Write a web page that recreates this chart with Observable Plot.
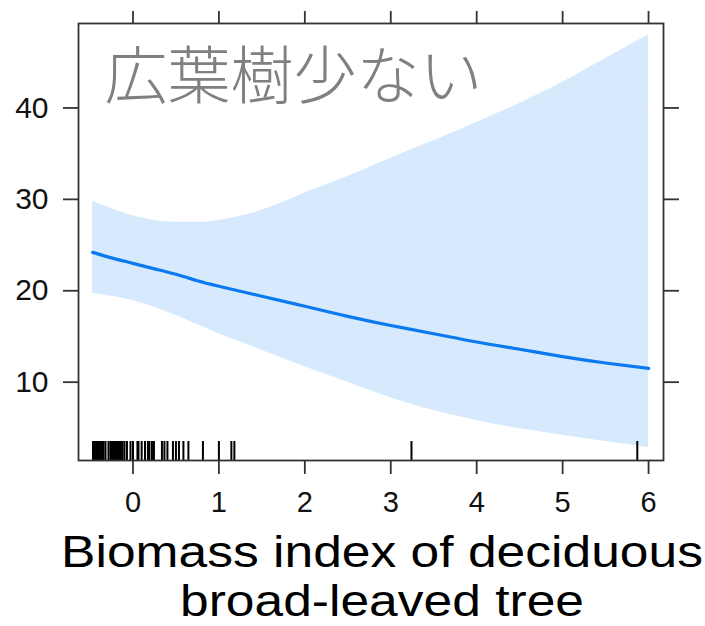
<!DOCTYPE html>
<html><head><meta charset="utf-8">
<script src="https://cdn.jsdelivr.net/npm/d3@7"></script>
<script src="https://cdn.jsdelivr.net/npm/@observablehq/plot@0.6"></script>
<style>
body{margin:0;background:#fff;width:705px;height:626px;overflow:hidden;}
#chart svg{display:block;}
#xlabel{font-family:"Liberation Sans",Arial,sans-serif;font-size:43.5px;line-height:49px;color:#000;white-space:nowrap;text-align:center;width:646px;margin-left:59px;margin-top:-2px;transform:scaleX(1.185);transform-origin:323px 0;}
</style></head><body>
<div id="chart"></div>
<div id="xlabel"></div>
<script>
// effect curve (x = biomass index)
const xs    = [-0.47, -0.25, 0, 0.25, 0.5, 0.75, 1, 1.5, 2, 2.5, 3, 3.5, 4, 4.5, 5, 5.5, 6];
const fit   = [24.2, 23.6, 23.0, 22.4, 21.8, 21.1, 20.5, 19.4, 18.3, 17.2, 16.2, 15.3, 14.4, 13.6, 12.8, 12.1, 11.5];
const upper = [29.8, 29.0, 28.2, 27.7, 27.5, 27.5, 27.7, 28.8, 30.7, 32.5, 34.5, 36.4, 38.4, 40.5, 42.8, 45.4, 48.0];
const lower = [19.7, 19.4, 18.9, 18.2, 17.3, 16.3, 15.3, 13.5, 11.7, 10.0, 8.3, 6.9, 5.8, 4.9, 4.2, 3.5, 2.85];
// rug of observed x values
const rug = [-0.465, -0.448, -0.430, -0.413, -0.395, -0.378, -0.360, -0.343, -0.320, -0.285,
  -0.262, -0.244, -0.227, -0.209, -0.192, -0.174, -0.157, -0.140, -0.122, -0.099, -0.070,
  -0.029, 0.000, 0.052, 0.064, 0.101, 0.140, 0.174, 0.192, 0.221, 0.244, 0.337, 0.366,
  0.401, 0.465, 0.500, 0.535, 0.587, 0.645, 0.814, 1.000, 1.145, 1.180, 3.241, 5.869];
const xTicks = [0, 1, 2, 3, 4, 5, 6];
const yTicks = [10, 20, 30, 40];
const panelTitle = "広葉樹少ない";
const xTitleLines = ["Biomass index of deciduous", "broad-leaved tree"];

const curveData = xs.map((x, i) => ({x, fit: fit[i], lo: lower[i], hi: upper[i]}));
const axisStyle = {stroke: "#333", strokeWidth: 1.8, fill: "#111", label: null};

const plot = Plot.plot({
  width: 705, height: 530,
  marginLeft: 78, marginRight: 42, marginTop: 23, marginBottom: 70,
  x: {domain: [-0.634, 6.174]},
  y: {domain: [1.43, 49.24]},
  style: {fontFamily: "'Liberation Sans', Arial, sans-serif", background: "white", color: "#111"},
  marks: [
    Plot.areaY(curveData, {x: "x", y1: "lo", y2: "hi", fill: "#d7e9fc", curve: "natural"}),
    Plot.line(curveData, {x: "x", y: "fit", stroke: "#0b79ef", strokeWidth: 3.2, curve: "natural"}),
    Plot.ruleX(rug, {x: d => d, stroke: "#000", strokeWidth: 2, insetTop: 418}),
    Plot.text([panelTitle], {frameAnchor: "top-left", text: d => d, dx: 26, dy: 74, lineAnchor: "bottom",
      textAnchor: "start", fontSize: 63, fill: "#808080", fontFamily: "'Noto Sans CJK JP', sans-serif", fontWeight: 300}),
    Plot.frame({stroke: "#333", strokeWidth: 1.8}),
    Plot.axisX({...axisStyle, anchor: "bottom", ticks: xTicks, tickSize: 14, tickPadding: 17, fontSize: 29, tickFormat: d => String(d)}),
    Plot.axisX({...axisStyle, anchor: "top", ticks: xTicks, tickSize: 13, tickFormat: () => ""}),
    Plot.axisY({...axisStyle, anchor: "left", ticks: yTicks, tickSize: 15, tickPadding: 15, fontSize: 30, tickFormat: d => String(d)}),
    Plot.axisY({...axisStyle, anchor: "right", ticks: yTicks, tickSize: 15, tickFormat: () => ""})
  ]
});
document.getElementById("chart").append(plot);
const xl = document.getElementById("xlabel");
xTitleLines.forEach(t => { const d = document.createElement("div"); d.textContent = t; xl.append(d); });
</script>
</body></html>
